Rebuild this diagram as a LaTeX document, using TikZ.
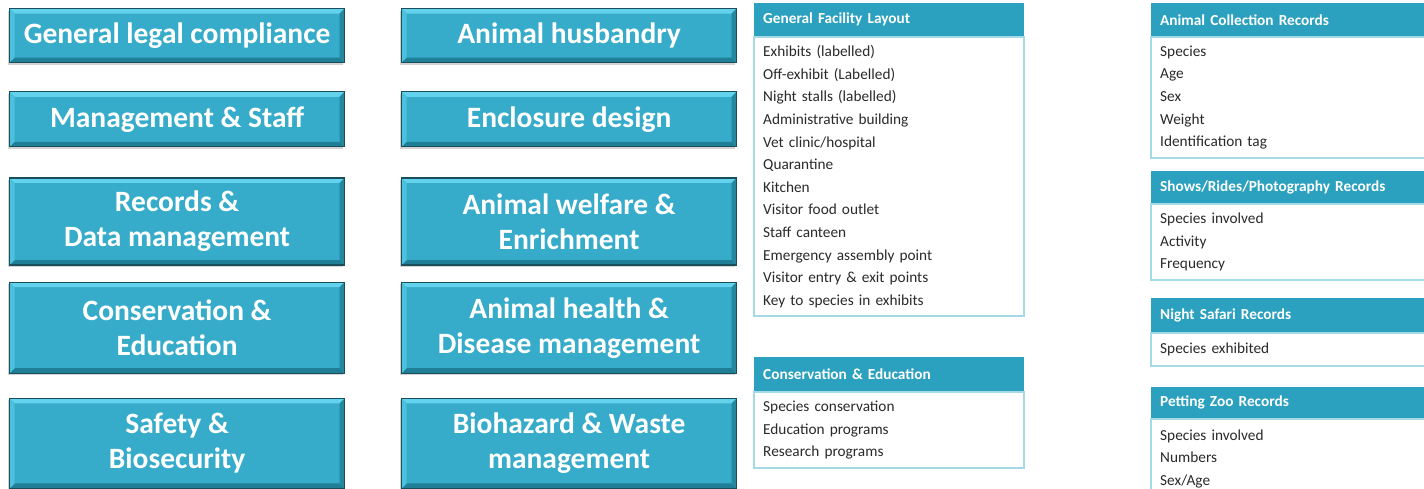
\documentclass[tikz,border=0pt]{standalone}
\usepackage{fontspec}
\setmainfont{Carlito}
\usetikzlibrary{positioning,shadows}
\definecolor{topicfill}{HTML}{36ACCA}
\definecolor{topicedge}{HTML}{1B4E5B}
\definecolor{bevlight}{HTML}{63D3ED}
\definecolor{bevdark}{HTML}{1F7F96}
\definecolor{headfill}{HTML}{2CA1BF}
\definecolor{bodyline}{HTML}{A6D9E6}
\definecolor{itemtext}{HTML}{2A2A2A}

\begin{document}
\begin{tikzpicture}[x=1pt,y=-1pt,
  topic/.style={draw=topicedge,line width=1.2pt,fill=topicfill,text=white,
                font=\fontsize{29.5}{35}\selectfont\bfseries,align=center,
                minimum width=335pt,inner sep=0pt,
                drop shadow={shadow xshift=-2pt,shadow yshift=-2pt,opacity=0.35},
                path picture={
                  \fill[bevlight] (path picture bounding box.north west) -- (path picture bounding box.north east)
                    -- ([shift={(-5pt,-5pt)}]path picture bounding box.north east) -- ([shift={(5pt,-5pt)}]path picture bounding box.north west) -- cycle;
                  \fill[bevdark] (path picture bounding box.south west) -- (path picture bounding box.south east)
                    -- ([shift={(-5pt,5pt)}]path picture bounding box.south east) -- ([shift={(5pt,5pt)}]path picture bounding box.south west) -- cycle;
                  \fill[bevdark!80!topicfill] (path picture bounding box.north east) -- (path picture bounding box.south east)
                    -- ([shift={(-5pt,5pt)}]path picture bounding box.south east) -- ([shift={(-5pt,-5pt)}]path picture bounding box.north east) -- cycle;
                  \fill[bevlight!50!topicfill] (path picture bounding box.north west) -- (path picture bounding box.south west)
                    -- ([shift={(5pt,5pt)}]path picture bounding box.south west) -- ([shift={(5pt,-5pt)}]path picture bounding box.north west) -- cycle;
                }},
  tblhead/.style={fill=headfill,text=white,font=\fontsize{15.3}{18}\selectfont\bfseries,
                  anchor=north west,align=left,inner xsep=9pt,inner ysep=0pt},
  tblbody/.style={draw=bodyline,line width=1.5pt,fill=white,text=itemtext,
                  font=\fontsize{15.3}{22.6}\selectfont,align=left,inner xsep=9pt,inner ysep=0pt}]
\clip (0,0) rectangle (1424,489);

% left column
\node[topic,minimum height=54pt,anchor=north west] (legal) at (9,8) {General legal compliance};
\node[topic,minimum height=55pt,below=28pt of legal]   (mgmt)    {Management \& Staff};
\node[topic,minimum height=87pt,below=30pt of mgmt]    (records) {Records \&\\Data management};
\node[topic,minimum height=91pt,below=16pt of records] (conserv) {Conservation \&\\Education};
\node[topic,minimum height=90pt,below=24pt of conserv] (safety)  {Safety \&\\Biosecurity};

% middle column
\node[topic,minimum height=54pt,anchor=north west] (husb) at (401,8) {Animal husbandry};
\node[topic,minimum height=55pt,below=28pt of husb]    (encl)    {Enclosure design};
\node[topic,minimum height=87pt,below=30pt of encl]    (welfare) {Animal welfare \&\\Enrichment};
\node[topic,minimum height=91pt,below=16pt of welfare] (health)  {Animal health \&\\Disease management};
\node[topic,minimum height=90pt,below=24pt of health]  (waste)   {Biohazard \& Waste\\management};

% layout tables
\node[tblhead,minimum width=270pt,minimum height=33pt,text width=252pt] (gflH) at (754,3) {General Facility Layout};
\node[tblbody,text width=252pt,minimum height=279pt,below=0pt of gflH] (gfl)
  {Exhibits (labelled)\\Off-exhibit (Labelled)\\Night stalls (labelled)\\Administrative building\\
   Vet clinic/hospital\\Quarantine\\Kitchen\\Visitor food outlet\\Staff canteen\\
   Emergency assembly point\\Visitor entry \& exit points\\Key to species in exhibits};
\node[tblhead,minimum width=270pt,minimum height=34pt,text width=252pt] (ceH) at (754,357) {Conservation \& Education};
\node[tblbody,text width=252pt,minimum height=76pt,below=0pt of ceH] (ce)
  {Species conservation\\Education programs\\Research programs};

% record tables
\node[tblhead,minimum width=300pt,minimum height=33pt,text width=282pt] (acrH) at (1151,3) {Animal Collection Records};
\node[tblbody,text width=282pt,minimum height=121pt,below=0pt of acrH] (acr)
  {Species\\Age\\Sex\\Weight\\Identification tag};
\node[tblhead,minimum width=300pt,minimum height=32pt,text width=282pt] (showH) at (1151,171) {Shows/Rides/Photography Records};
\node[tblbody,text width=282pt,minimum height=76pt,below=0pt of showH] (show)
  {Species involved\\Activity\\Frequency};
\node[tblhead,minimum width=300pt,minimum height=34pt,text width=282pt] (nightH) at (1151,298) {Night Safari Records};
\node[tblbody,text width=282pt,minimum height=33pt,below=0pt of nightH] (night)
  {Species exhibited};
\node[tblhead,minimum width=300pt,minimum height=31pt,text width=282pt] (petH) at (1151,387) {Petting Zoo Records};
\node[tblbody,text width=282pt,minimum height=79pt,below=0pt of petH] (pet)
  {Species involved\\Numbers\\Sex/Age};
\end{tikzpicture}
\end{document}
